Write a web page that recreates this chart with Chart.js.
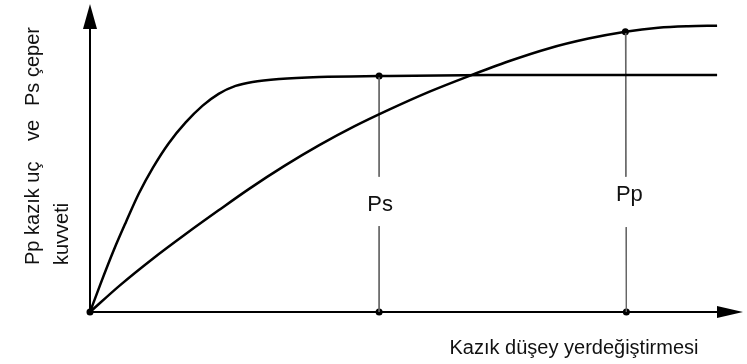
<!DOCTYPE html>
<html>
<head>
<meta charset="utf-8">
<script src="https://cdn.jsdelivr.net/npm/chart.js@4"></script>
<style>
  html, body { margin: 0; padding: 0; background: #fff; }
  #wrap { width: 747px; height: 364px; position: relative; }
</style>
</head>
<body>
<div id="wrap"><canvas id="pileChart"></canvas></div>
<script>
// displacement (x) and load (y)
var dispPs = [0, 10, 24, 36, 49, 63, 79, 96, 113, 129, 146, 163, 190, 230, 290, 400, 629];
var loadPs = [0, 27, 63, 91, 120, 146, 171, 192, 209, 221, 229, 233, 236, 238, 239, 240, 240];

var dispPp = [0, 30, 63, 96, 129, 160, 195, 230, 265, 300, 340, 380, 420, 460, 500, 537, 570, 600, 629];
var loadPp = [0, 27, 54, 79, 103, 125, 148, 169, 188, 205, 223, 239, 254, 267, 277, 284, 288, 289.5, 290];

// marked points on each curve and their foot on the axis
var markLabels = ['Ps', 'Pp'];
var markX = [290, 537];
var markY = [239, 284];
var footX = [290, 538];

var xMax = 655, yMax = 312;

function toPts(xs, ys) {
	var pts = [];
	for (var i = 0; i < xs.length; i++) {
		pts.push({ x: xs[i], y: ys[i] });
	}
	return pts;
}

// vertical guide lines, broken where the label sits
var guides = [];
var gapTop = [137, 137];
var gapBottom = [87, 86];
for (var i = 0; i < markX.length; i++) {
	guides.push({
		data: [
			{ x: markX[i], y: markY[i] },
			{ x: markX[i] + (footX[i] - markX[i]) * (markY[i] - gapTop[i]) / markY[i], y: gapTop[i] },
			{ x: NaN, y: NaN },
			{ x: markX[i] + (footX[i] - markX[i]) * (markY[i] - gapBottom[i]) / markY[i], y: gapBottom[i] },
			{ x: footX[i], y: 0 }
		],
		borderColor: '#666',
		borderWidth: 1,
		pointRadius: 0,
		spanGaps: false,
		tension: 0
	});
}

var dots = [{ x: 0, y: 0 }];
for (var i = 0; i < markX.length; i++) {
	dots.push({ x: markX[i], y: markY[i] });
	dots.push({ x: footX[i], y: 0 });
}

var axesPlugin = {
	id: 'axes',
	beforeDatasetsDraw: function(chart) {
		var ctx = chart.ctx;
		var xs = chart.scales.x, ys = chart.scales.y;
		var ox = xs.getPixelForValue(0), oy = ys.getPixelForValue(0);
		var right = xs.getPixelForValue(xMax), top = ys.getPixelForValue(yMax);
		ctx.save();
		ctx.strokeStyle = '#000';
		ctx.fillStyle = '#000';
		ctx.lineWidth = 2;
		ctx.beginPath();
		ctx.moveTo(ox, oy);
		ctx.lineTo(ox, top + 20);
		ctx.moveTo(ox, oy);
		ctx.lineTo(right - 20, oy);
		ctx.stroke();
		// arrow heads
		ctx.beginPath();
		ctx.moveTo(ox, top);
		ctx.lineTo(ox - 7, top + 25);
		ctx.lineTo(ox + 7, top + 25);
		ctx.closePath();
		ctx.fill();
		ctx.beginPath();
		ctx.moveTo(right, oy);
		ctx.lineTo(right - 26, oy - 6);
		ctx.lineTo(right - 26, oy + 6);
		ctx.closePath();
		ctx.fill();
		ctx.restore();
	},
	afterDraw: function(chart) {
		var ctx = chart.ctx;
		var xs = chart.scales.x;
		ctx.save();
		ctx.fillStyle = '#111';
		ctx.textBaseline = 'middle';
		ctx.textAlign = 'center';
		ctx.font = '22px "Liberation Sans", Arial, sans-serif';
		ctx.fillText(markLabels[0], xs.getPixelForValue(markX[0]) + 1, 205);
		ctx.fillText(markLabels[1], xs.getPixelForValue(markX[1]) + 4, 195);

		ctx.font = '20px "Liberation Sans", Arial, sans-serif';
		ctx.fillText('Kazık düşey yerdeğiştirmesi', 574, 348);

		// rotated y axis title
		ctx.rotate(-Math.PI / 2);
		ctx.textAlign = 'left';
		ctx.font = '20px "Liberation Sans", Arial, sans-serif';
		ctx.fillText('Pp kazık uç', -265, 33);
		ctx.fillText('ve', -141, 33);
		ctx.fillText('Ps çeper', -106, 33);
		ctx.fillText('kuvveti', -265, 62);
		ctx.restore();
	}
};

var ctx = document.getElementById('pileChart');

var pileChart = new Chart(ctx, {
	type: 'line',
	data: {
		datasets: [{
			data: toPts(dispPs, loadPs),
			borderColor: '#000',
			borderWidth: 2.5,
			pointRadius: 0,
			cubicInterpolationMode: 'monotone'
		}, {
			data: toPts(dispPp, loadPp),
			borderColor: '#000',
			borderWidth: 2.5,
			pointRadius: 0,
			cubicInterpolationMode: 'monotone'
		}].concat(guides).concat([{
			data: dots,
			showLine: false,
			pointRadius: 3.5,
			pointBackgroundColor: '#000',
			pointBorderWidth: 0
		}])
	},
	options: {
		responsive: true,
		maintainAspectRatio: false,
		animation: false,
		clip: false,
		layout: { padding: { left: 90, right: 2, top: 0, bottom: 52 } },
		plugins: {
			legend: { display: false },
			tooltip: { enabled: false }
		},
		scales: {
			x: { type: 'linear', min: 0, max: xMax, display: false },
			y: { type: 'linear', min: 0, max: yMax, display: false }
		}
	},
	plugins: [axesPlugin]
});
</script>
</body>
</html>
